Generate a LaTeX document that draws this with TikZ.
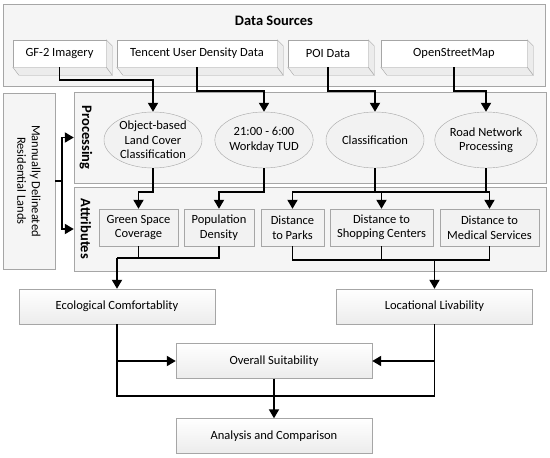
\documentclass[tikz,border=0pt]{standalone}
\usepackage{fontspec}
\setmainfont{Carlito}
\usetikzlibrary{arrows.meta,shapes.geometric}
\begin{document}
\begin{tikzpicture}[
  x=1pt, y=-1pt,
  every node/.style={font=\fontsize{12.5}{14.5}\selectfont, align=center},
  panel/.style={draw=gray!70, fill=gray!8},
  title/.style={font=\fontsize{14.5}{16}\selectfont\bfseries},
  source/.style={draw=gray!70, fill=white, minimum height=27},
  side/.style={draw=gray!70, fill=gray!15},
  proc/.style={ellipse, draw=gray!70, fill=gray!10, minimum width=98, minimum height=56, inner sep=0pt},
  attr/.style={draw=gray!70, fill=gray!10, minimum height=37, inner sep=1pt},
  result/.style={draw=gray!70, top color=white, bottom color=gray!15, minimum width=196, minimum height=35},
  line/.style={line width=1.8, line join=miter},
  arr/.style={line, -{Triangle[length=9pt,width=10pt]}}
]
  \useasboundingbox (0,0) rectangle (550,458);

  \node[panel, minimum width=542, minimum height=82] (sources) at (274,45) {};
  \node[title] (sourcestitle) at (274,21) {Data Sources};
  \node[panel, minimum width=472, minimum height=91] (processing) at (310,137.5) {};
  \node[panel, minimum width=472, minimum height=84] (attributes) at (310,229) {};
  \node[panel, minimum width=52, minimum height=176] (manual) at (29,181) {};
  \node[rotate=-90] (manualtext) at (manual) {Mannually Delineated\\Residential Lands};
  \node[title, rotate=-90] (processingtitle) at (86,137.5) {Processing};
  \node[title, rotate=-90] (attributestitle) at (86,229) {Attributes};

  \node[source, minimum width=93] (gf) at (59.5,53.5) {GF-2 Imagery};
  \node[source, minimum width=160] (tencent) at (197,53.5) {Tencent User Density Data};
  \node[source, minimum width=80] (poi) at (328,53.5) {POI Data};
  \node[source, minimum width=146] (osm) at (454,53.5) {OpenStreetMap};
  \foreach \n in {gf,tencent,poi,osm} {
    \draw[side] (\n.north east) -- ++(6,6) -- ([shift={(6,8)}]\n.south east) -- (\n.south east) -- cycle;
    \draw[side] (\n.south west) -- ([shift={(6,8)}]\n.south west) -- ([shift={(6,8)}]\n.south east) -- (\n.south east) -- cycle;
  }

  \node[proc] (object) at (153,140) {Object-based\\Land Cover\\Classification};
  \node[proc] (tud) at (264,140) {21:00 - 6:00\\Workday TUD};
  \node[proc] (classify) at (375,140) {Classification};
  \node[proc] (road) at (486,140) {Road Network\\Processing};

  \node[attr, minimum width=79] (green) at (138.5,227.5) {Green Space\\Coverage};
  \node[attr, minimum width=70] (population) at (219,227.5) {Population\\Density};
  \node[attr, minimum width=63] (parks) at (292.5,227.5) {Distance\\to Parks};
  \node[attr, minimum width=103] (shopping) at (381.5,227.5) {Distance to\\Shopping Centers};
  \node[attr, minimum width=99] (medical) at (489.5,227.5) {Distance to\\Medical Services};

  \node[result] (ecological) at (117,306.5) {Ecological Comfortablity};
  \node[result] (locational) at (434.5,306.5) {Locational Livability};
  \node[result] (overall) at (274,361) {Overall Suitability};
  \node[result] (analysis) at (274,436) {Analysis and Comparison};

  \draw[arr] (gf.south) -- ++(0,13) -| (object.north);
  \draw[arr] (tencent.south) -- ++(0,24) -| (tud.north);
  \draw[arr] (poi.south) -- ++(0,24) -| (classify.north);
  \draw[arr] (osm.south) -- ++(0,24) -| (road.north);

  \draw[line] (manual.east) -- ++(7,0) coordinate (bracket);
  \draw[arr] (bracket) |- (processing.west);
  \draw[arr] (bracket) |- (attributes.west);

  \draw[arr] (object.south) -- ++(0,24) -| (green.north);
  \draw[arr] (tud.south) -- ++(0,24) -| (population.north);
  \draw[line] (classify.south) -- ++(0,24) coordinate (split);
  \draw[arr] (split) -| (parks.north);
  \draw[arr] (split) -| (shopping.north);
  \draw[arr] (split) -| (medical.north);
  \draw[line] (road.south) -- (road.south |- split);

  \draw[line] (green.south) -- ++(0,12) coordinate (ecojoin) -| (population.south);
  \draw[line] (ecojoin) -- (ecological.north |- ecojoin);
  \draw[arr] (ecological.north |- ecojoin) -- (ecological.north);
  \draw[line] (parks.south) -- ++(0,14) coordinate (locjoin) -| (medical.south);
  \draw[line] (shopping.south) -- (shopping.south |- locjoin);
  \draw[arr] (locational.north |- locjoin) -- (locational.north);

  \coordinate (merge) at (274,396);
  \draw[line] (ecological.south) |- (merge) -| (locational.south);
  \draw[arr] (ecological.south |- overall.west) -- (overall.west);
  \draw[arr] (locational.south |- overall.east) -- (overall.east);
  \draw[arr] (overall.south) -- (analysis.north);
\end{tikzpicture}
\end{document}
